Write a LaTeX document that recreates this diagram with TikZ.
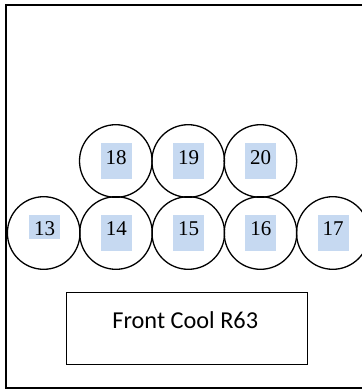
\documentclass[tikz,border=0pt]{standalone}
\usepackage{fontspec}
\setmainfont{Liberation Serif}
\newfontfamily\calib{Carlito}
\definecolor{lblue}{RGB}{198,217,241}
\begin{document}
\begin{tikzpicture}[x=1pt,y=-1pt,
  ring/.style={draw=black,line width=1.3pt,circle,minimum size=72.6pt,inner sep=0pt},
  num/.style={font=\fontsize{21}{21}\selectfont,anchor=base,inner sep=0pt}]
\useasboundingbox (0,0) rectangle (362,389);
\clip (0,0) rectangle (362,389);
\draw[line width=2pt] (6,5) rectangle (380,387.7);
% top row
\foreach \n/\x in {18/115.8,19/188.2,20/260.4}{
  \node[ring] (c\n) at (\x,161) {};
  \fill[lblue] (\x-15.3,143) rectangle (\x+15.7,178.7);
  \node[num] (t\n) at (\x+0.3,164.3) {\n};
}
% bottom row
\node[ring] (c13) at (43.7,233) {};
\fill[lblue] (29.3,215) rectangle (60,239.3);
\node[num] (t13) at (44.7,235) {13};
\foreach \n/\x in {14/116,15/188.3,16/260.5,17/332.8}{
  \node[ring] (c\n) at (\x,233) {};
  \fill[lblue] (\x-15.3,215) rectangle (\x+15.7,251);
  \node[num] (t\n) at (\x+0.3,235) {\n};
}
\node[draw,line width=1.5pt,minimum width=241pt,minimum height=71.6pt,inner sep=0pt] (box) at (187.2,328.5) {};
\node[font=\calib\fontsize{24.3}{24.3}\selectfont,anchor=base,inner sep=0pt] (lbl) at (185.3,328.3) {Front Cool R63};
\end{tikzpicture}
\end{document}
